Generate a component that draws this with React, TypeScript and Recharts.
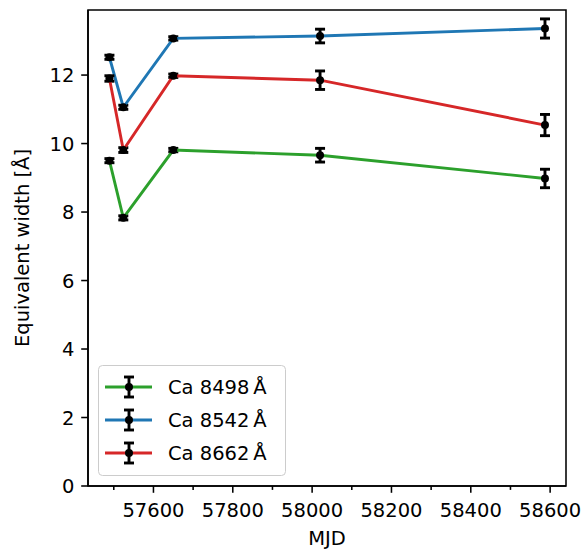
import {
  LineChart,
  Line,
  XAxis,
  YAxis,
  ErrorBar,
  ReferenceArea,
  Label,
} from "recharts"

// MJD of each epoch
const mjd = [57489, 57524, 57650, 58020, 58587]

// equivalent widths [Å] and 1-sigma errors per line
const ca8498 = [9.5, 7.83, 9.81, 9.66, 8.98]
const ca8498Err = [0.06, 0.06, 0.05, 0.2, 0.27]
const ca8542 = [12.52, 11.06, 13.07, 13.14, 13.36]
const ca8542Err = [0.06, 0.06, 0.05, 0.2, 0.28]
const ca8662 = [11.9, 9.81, 11.98, 11.85, 10.54]
const ca8662Err = [0.08, 0.07, 0.05, 0.27, 0.31]

const seriesNames = ["Ca 8498\u2009Å", "Ca 8542\u2009Å", "Ca 8662\u2009Å"]
const seriesColors = ["#2ca02c", "#1f77b4", "#d62728"]

const xTicks = [57500, 57600, 57700, 57800, 57900, 58000, 58100, 58200, 58300, 58400, 58500, 58600]
const xMajor = [57600, 57800, 58000, 58200, 58400, 58600]
const yTicks = [0, 2, 4, 6, 8, 10, 12]

const X_DOMAIN = [57435, 58640]
const Y_DOMAIN = [0, 13.9]

const FONT = "DejaVu Sans"
const FS = 19.5
const LW = 1.55

const toRows = (vals: number[], errs: number[]) =>
  mjd.map((m, i) => ({ mjd: m, ew: vals[i], err: errs[i] }))

const series = [
  { name: seriesNames[0], color: seriesColors[0], data: toRows(ca8498, ca8498Err) },
  { name: seriesNames[1], color: seriesColors[1], data: toRows(ca8542, ca8542Err) },
  { name: seriesNames[2], color: seriesColors[2], data: toRows(ca8662, ca8662Err) },
]

function XTick({ x, y, payload }: any) {
  const major = xMajor.includes(payload.value)
  return (
    <g>
      <line x1={x} x2={x} y1={y} y2={y + (major ? 6.8 : 3.9)} stroke="#000" strokeWidth={LW} />
      {major && (
        <text x={x} y={y + 31} textAnchor="middle" fontFamily={FONT} fontSize={FS} fill="#000">
          {payload.value}
        </text>
      )}
    </g>
  )
}

function YTick({ x, y, payload }: any) {
  return (
    <g>
      <line x1={x - 6.8} x2={x} y1={y} y2={y} stroke="#000" strokeWidth={LW} />
      <text x={x - 13.6} y={y} dy="0.36em" textAnchor="end" fontFamily={FONT} fontSize={FS} fill="#000">
        {payload.value}
      </text>
    </g>
  )
}

// matplotlib-style legend box, overlaid on the axes
function LegendBox() {
  const rowY = [22, 55, 88]
  return (
    <svg
      width={190}
      height={112}
      style={{ position: "absolute", left: 98, top: 365, display: "block" }}
    >
      <rect x={0.5} y={0.5} width={187} height={110} rx={4} fill="#fff" fillOpacity={0.8} stroke="#ccc" strokeWidth={1} />
      {series.map((s, i) => (
        <g key={s.name}>
          <line x1={7} x2={54} y1={rowY[i]} y2={rowY[i]} stroke={s.color} strokeWidth={2.9} />
          <line x1={31} x2={31} y1={rowY[i] - 10} y2={rowY[i] + 10} stroke="#000" strokeWidth={2.9} />
          <line x1={26} x2={36} y1={rowY[i] - 10} y2={rowY[i] - 10} stroke="#000" strokeWidth={2.9} />
          <line x1={26} x2={36} y1={rowY[i] + 10} y2={rowY[i] + 10} stroke="#000" strokeWidth={2.9} />
          <circle cx={31} cy={rowY[i]} r={4} fill="#000" />
          <text x={70} y={rowY[i]} dy="0.36em" fontFamily={FONT} fontSize={FS} fill="#000">
            {s.name}
          </text>
        </g>
      ))}
    </svg>
  )
}

export default function App() {
  return (
    <div style={{ position: "absolute", left: 0, top: 0, width: 587, height: 549, background: "#fff" }}>
      <LineChart
        width={587}
        height={549}
        margin={{ top: 10, right: 21, left: 0, bottom: 0 }}
      >
        <XAxis
          type="number"
          dataKey="mjd"
          domain={X_DOMAIN}
          ticks={xTicks}
          interval={0}
          allowDataOverflow
          height={63}
          tickSize={0}
          tickMargin={0}
          tickLine={false}
          axisLine={{ stroke: "#000", strokeWidth: LW }}
          tick={<XTick />}
        >
          <Label
            content={() => (
              <text x={327} y={545} textAnchor="middle" fontFamily={FONT} fontSize={FS} fill="#000">
                MJD
              </text>
            )}
          />
        </XAxis>
        <YAxis
          type="number"
          domain={Y_DOMAIN}
          ticks={yTicks}
          interval={0}
          allowDataOverflow
          width={88}
          tickSize={0}
          tickMargin={0}
          tickLine={false}
          axisLine={{ stroke: "#000", strokeWidth: LW }}
          tick={<YTick />}
        >
          <Label
            content={() => (
              <text
                x={0}
                y={0}
                transform="translate(29 248) rotate(-90)"
                textAnchor="middle"
                fontFamily={FONT}
                fontSize={FS}
                fill="#000"
              >
                Equivalent width [Å]
              </text>
            )}
          />
        </YAxis>
        <ReferenceArea
          x1={X_DOMAIN[0]}
          x2={X_DOMAIN[1]}
          y1={Y_DOMAIN[0]}
          y2={Y_DOMAIN[1]}
          fill="none"
          stroke="#000"
          strokeWidth={LW}
          ifOverflow="visible"
        />
        {series.map(s => (
          <Line
            key={s.name}
            data={s.data}
            dataKey="ew"
            name={s.name}
            type="linear"
            stroke={s.color}
            strokeWidth={2.9}
            dot={{ r: 4, fill: "#000", stroke: "none" }}
            activeDot={false}
            isAnimationActive={false}
          >
            <ErrorBar dataKey="err" direction="y" width={5} stroke="#000" strokeWidth={2.9} />
          </Line>
        ))}
      </LineChart>
      <LegendBox />
    </div>
  )
}
